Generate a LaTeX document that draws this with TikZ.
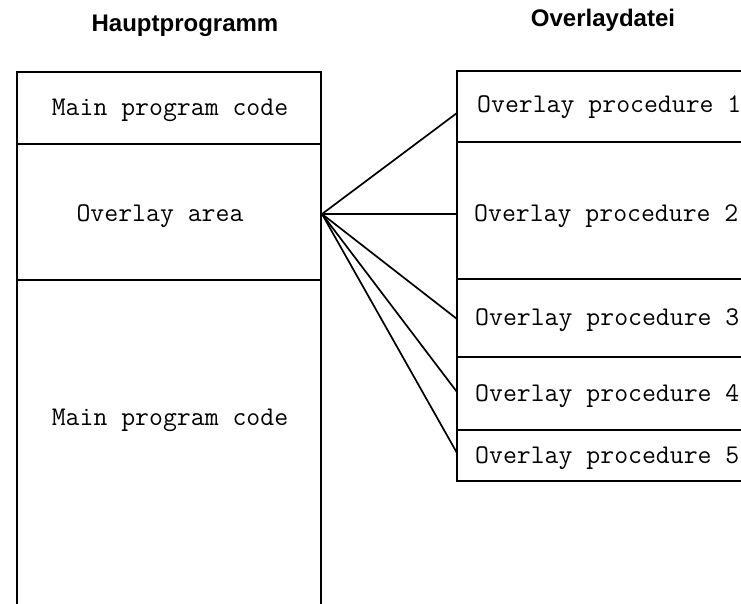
\documentclass[tikz,border=0pt]{standalone}
\usepackage{fontspec}
\newfontfamily\headfont{Liberation Sans}
\begin{document}
\begin{tikzpicture}[x=1pt,y=-1pt,
  frame/.style={line width=1.8pt, line cap=rect},
  wire/.style={line width=1.7pt},
  head/.style={font=\headfont\bfseries\fontsize{24}{24}\selectfont, anchor=base, inner sep=0pt},
  mono/.style={font=\ttfamily\fontsize{27}{27}\selectfont, anchor=base, inner sep=0pt},
  monol/.style={mono, anchor=base west}]
\useasboundingbox (0,0) rectangle (741,604);
\fill[white] (0,0) rectangle (741,604);
\clip (0,0) rectangle (741,604);

% column headings
\node[head] (hmain) at (185,32) {Hauptprogramm};
\node[head] (hovl) at (603,27) {Overlaydatei};

% main program column (runs past the lower edge)
\draw[frame] (17,640) -- (17,72) -- (321,72) -- (321,640);
\draw[frame] (17,144) -- (321,144);
\draw[frame] (17,280) -- (321,280);
\node[mono] (mtop) at (170,116) {Main program code};
\node[mono] (marea) at (160,222) {Overlay area};
\node[mono] (mlow) at (170,425) {Main program code};

% overlay file column (runs past the right edge)
\draw[frame] (780,71) -- (457,71) -- (457,481) -- (780,481);
\foreach \yy in {142,279,357,430}
  \draw[frame] (457,\yy) -- (780,\yy);
\node[monol] (p1) at (477,113) {Overlay procedure 1};
\node[monol] (p2) at (474,222) {Overlay procedure 2};
\node[monol] (p3) at (475,325) {Overlay procedure 3};
\node[monol] (p4) at (475,401) {Overlay procedure 4};
\node[monol] (p5) at (475,463) {Overlay procedure 5};

% fan of connections from the overlay area
\coordinate (hub) at (322,214);
\coordinate (e1) at (457,113);
\coordinate (e2) at (457,214);
\coordinate (e3) at (457,319);
\coordinate (e4) at (457,392);
\coordinate (e5) at (457,453);
\foreach \i in {1,...,5}
  \draw[wire] (hub) -- (e\i);
\end{tikzpicture}
\end{document}
